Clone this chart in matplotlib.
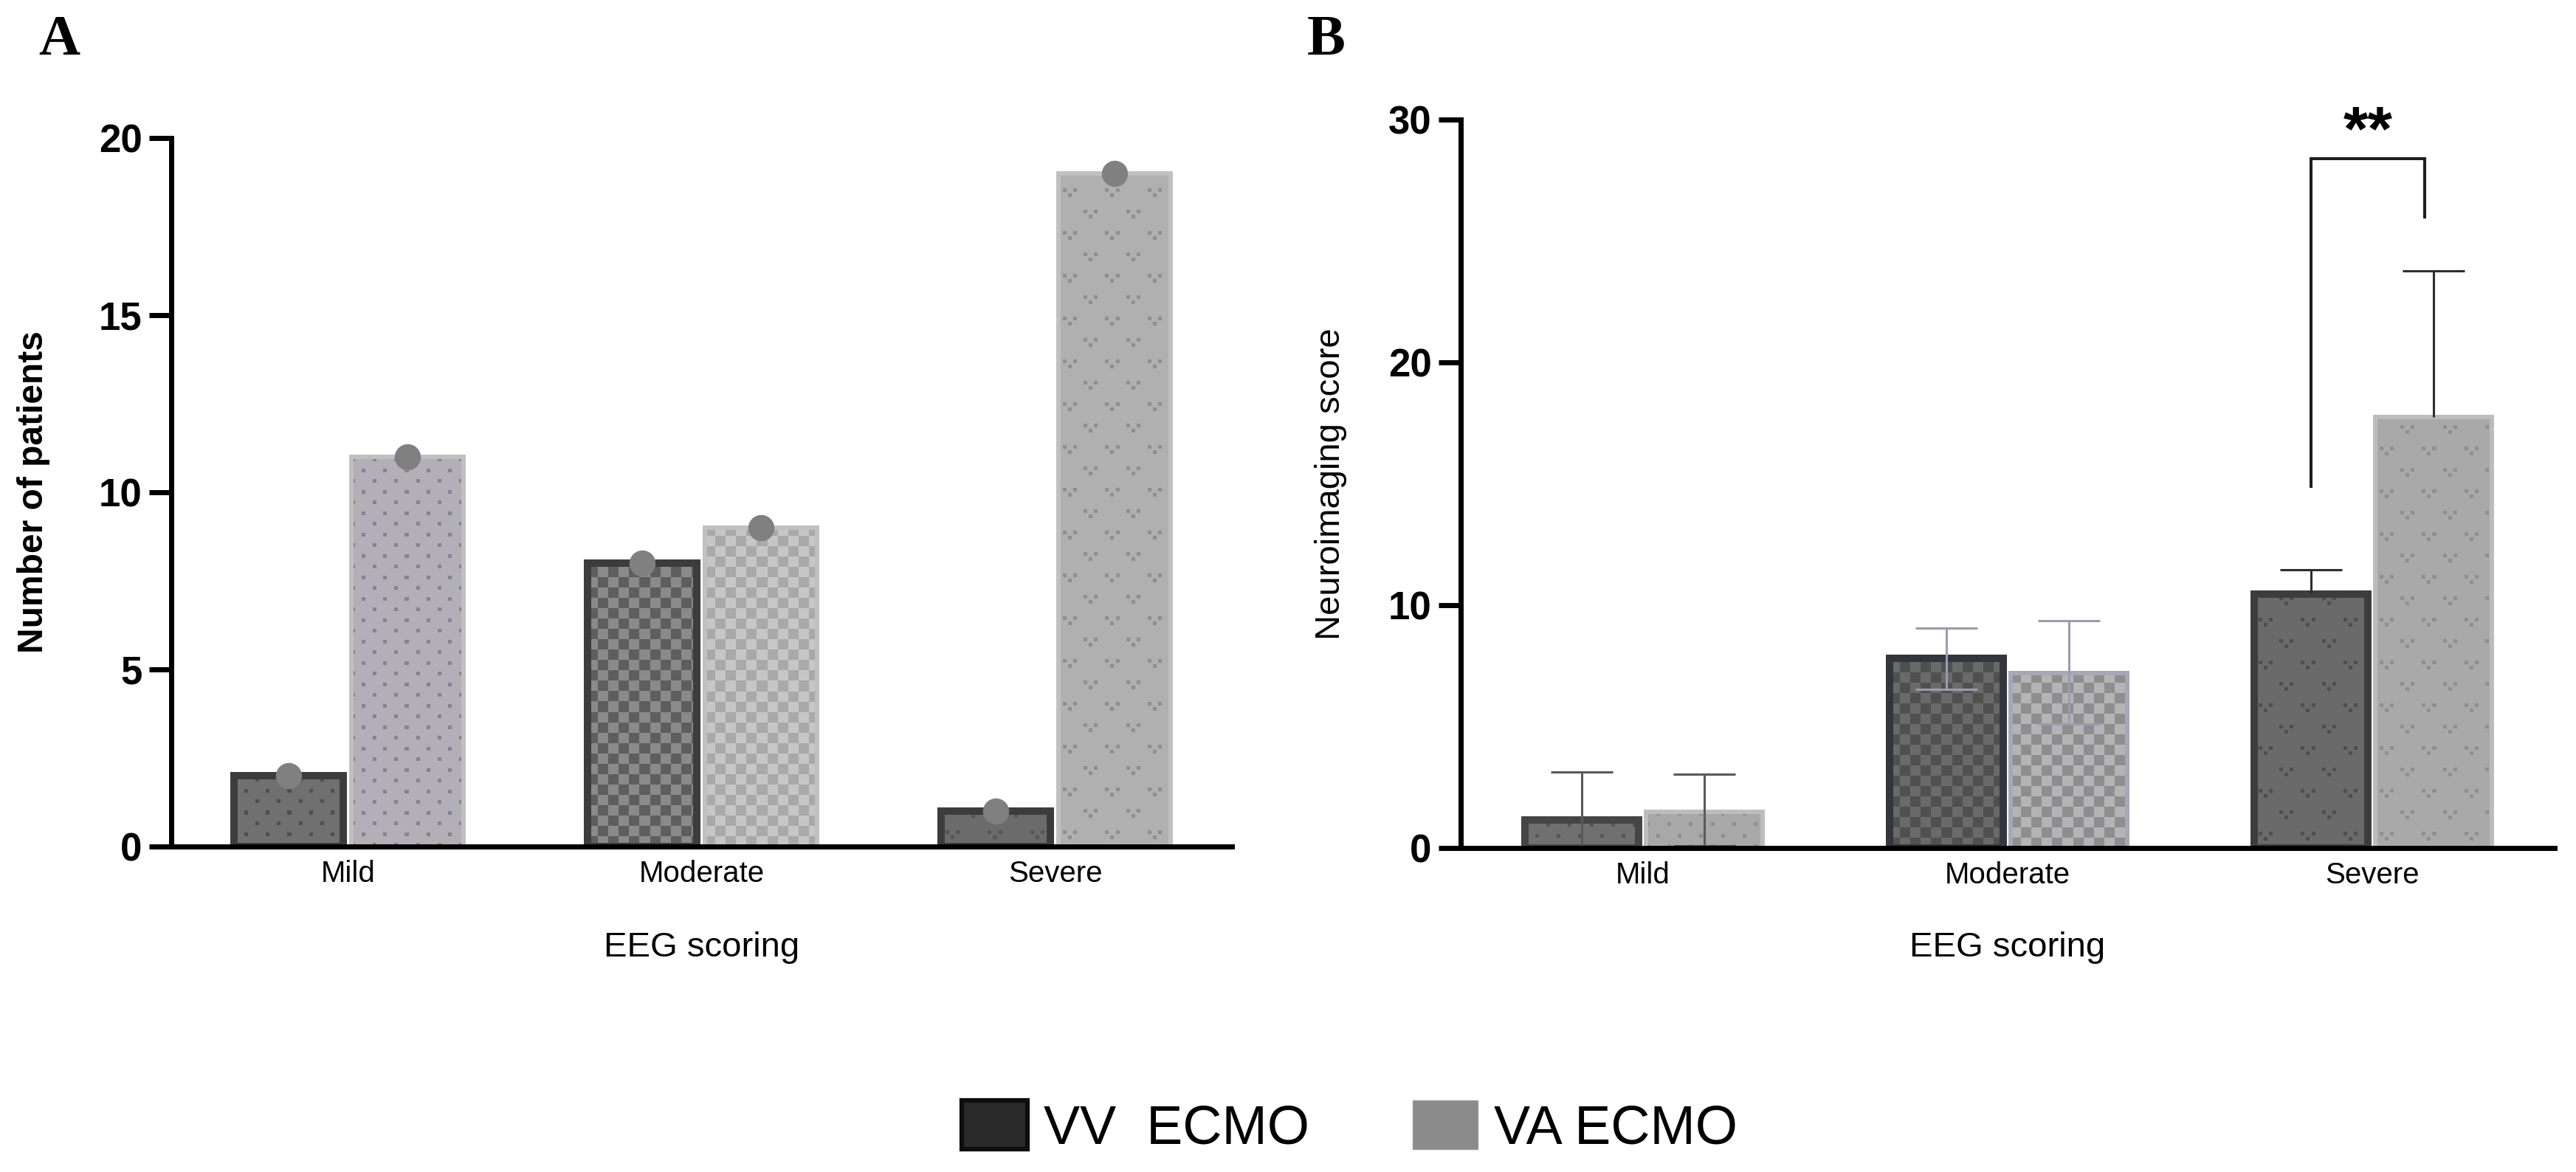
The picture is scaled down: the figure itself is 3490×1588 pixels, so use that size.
import numpy as np
import matplotlib
matplotlib.use('Agg')
import matplotlib.pyplot as plt
from matplotlib.colors import to_rgb
from matplotlib.patches import Patch

# data
categories = ['Mild', 'Moderate', 'Severe']

# panel A: number of patients per EEG grade
vv_patients = [2, 8, 1]
va_patients = [11, 9, 19]

# panel B: neuroimaging score (mean, lower / upper error)
vv_score = [1.15, 7.8, 10.45]
va_score = [1.5, 7.2, 17.75]
vv_err_lo = [1.15, 1.25, 0]
vv_err_hi = [1.98, 1.27, 1.0]
va_err_lo = [1.4, 2.1, 0]
va_err_hi = [1.54, 2.17, 6.03]

# significance bracket on Severe (panel B)
sig_label = '**'
sig_left_bottom = 14.9
sig_top = 28.4
sig_right_bottom = 26.0

W, H, DPI = 3490, 1588, 100
plt.rcParams['font.family'] = ['Liberation Sans', 'DejaVu Sans']

fig = plt.figure(figsize=(W / DPI, H / DPI), dpi=DPI)


def px_axes(left, right, bottom, top):
    # pixel box -> figure fraction
    return fig.add_axes([left / W, 1 - bottom / H, (right - left) / W, (bottom - top) / H])


axA = px_axes(232, 1669, 1147, 187)
axB = px_axes(1979, 3461, 1149, 162)

kinds = ['dots', 'checker', 'v']
off = 0.168
x = np.arange(len(categories))


def pattern(kind, xx, yy):
    if kind == 'dots':
        m = ((yy % 29) < 5) & ((xx % 29) < 5)
        m |= (((yy - 14) % 29) < 5) & (((xx - 14) % 29) < 5)
        return m
    if kind == 'checker':
        return ((xx // 14) + (yy // 14)) % 2 == 0

    def vee(lx, ly):
        top = (ly >= 7) & (ly < 12) & (((lx >= 0) & (lx < 5)) | ((lx >= 14) & (lx < 19)))
        bot = (ly >= 0) & (ly < 5) & (lx >= 7) & (lx < 12)
        return top | bot
    m = vee((xx - 6) % 57, (yy - 10) % 58)
    m |= vee((xx - 34) % 57, (yy - 39) % 58)
    return m


def add_texture(ax, bars, kind_list, fgs):
    for b, kind, fg in zip(bars, kind_list, fgs):
        x0, y0 = b.get_x(), b.get_y()
        w, h = b.get_width(), b.get_height()
        (p0x, p0y), (p1x, p1y) = ax.transData.transform([(x0, y0), (x0 + w, y0 + h)])
        nx, ny = max(int(round(p1x - p0x)), 1), max(int(round(p1y - p0y)), 1)
        yy, xx = np.mgrid[0:ny, 0:nx]
        yy = yy[::-1]
        img = np.zeros((ny, nx, 4))
        img[..., :3] = to_rgb(fg)
        img[..., 3] = pattern(kind, xx, yy)
        im = ax.imshow(img, extent=(x0, x0 + w, y0, y0 + h), origin='upper',
                       interpolation='nearest', aspect='auto', zorder=1.5)
        im.set_clip_path(b)


def draw_series(ax, xs, vals, width, faces, fgs, edges, lw):
    bars = ax.bar(xs, vals, width, color=faces, linewidth=0, zorder=1)
    add_texture(ax, bars, kinds, fgs)
    ax.bar(xs, vals, width, facecolor='none', edgecolor=edges, linewidth=lw, zorder=1.8)


def style_axes(ax, ylim, yticks):
    ax.set_xlim(-0.5, 2.5)
    ax.set_ylim(*ylim)
    ax.set_autoscale_on(False)
    for s in ['top', 'right']:
        ax.spines[s].set_visible(False)
    for s in ['left', 'bottom']:
        ax.spines[s].set_linewidth(5)
        ax.spines[s].set_zorder(5)
    ax.set_yticks(yticks)
    ax.set_xticks(x)
    ax.set_xticklabels(categories, fontsize=29)
    ax.tick_params(axis='x', length=0, pad=13)
    ax.tick_params(axis='y', length=21.5, width=5, pad=7, labelsize=38)
    for t in ax.get_yticklabels():
        t.set_fontweight('bold')
    ax.set_xlabel('EEG scoring', fontsize=34, va='center')


# ---- panel A
style_axes(axA, (0, 20), [0, 5, 10, 15, 20])
draw_series(axA, x - off, vv_patients, 0.31,
            ['#707070', '#8a8a8a', '#6b6b6b'], ['#4f4f4f', '#5e5e5e', '#555555'],
            '#3c3c3c', 7.2)
draw_series(axA, x + off, va_patients, 0.318,
            ['#b2b0b6', '#c6c6c6', '#b0b0b0'], ['#8c8094', '#a9a9a9', '#8f8f8f'],
            '#c0c0c0', 4.3)
axA.scatter(x - off, vv_patients, s=600, color='#808080', zorder=4, clip_on=False)
axA.scatter(x + off, va_patients, s=600, color='#808080', zorder=4, clip_on=False)
axA.set_ylabel('Number of patients', fontsize=34.5, fontweight='bold', va='center')
axA.yaxis.set_label_coords(-0.130, 0.5)
axA.xaxis.set_label_coords(0.5, -0.1427)

# ---- panel B
style_axes(axB, (0, 30), [0, 10, 20, 30])
draw_series(axB, x - off, vv_score, 0.31,
            ['#707070', '#6a6a6a', '#6a6a6a'], ['#555555', '#505050', '#4f4f4f'],
            ['#454545', '#35353d', '#3d3d3d'], 7.2)
draw_series(axB, x + off, va_score, 0.318,
            ['#a8a8a8', '#b4b4b8', '#a9a9a9'], ['#8e8e8e', '#8e8e8e', '#8f8f8f'],
            ['#bdbdbd', '#a7a7b7', '#bcbcbc'], 4.3)

err_colors = ['#5a5a5a', '#9b9bb1', '#2e2e2e']
for i in range(len(categories)):
    for xs, vals, lo, hi in [(x - off, vv_score, vv_err_lo, vv_err_hi),
                             (x + off, va_score, va_err_lo, va_err_hi)]:
        _, caps, _ = axB.errorbar(xs[i], vals[i], yerr=[[lo[i]], [hi[i]]], fmt='none',
                                  ecolor=err_colors[i], elinewidth=2.2, capsize=30,
                                  capthick=2.2, zorder=3)
        if lo[i] == 0:
            caps[0].set_visible(False)

xl = x[2] - off
xr = x[2] + off - 0.025
axB.plot([xl, xl, xr, xr], [sig_left_bottom, sig_top, sig_top, sig_right_bottom],
         color='#1e1e1e', lw=2.9, zorder=3, clip_on=False, solid_joinstyle='miter')
axB.text((xl + xr) / 2, sig_top + 0.35, sig_label, ha='center', va='baseline',
         fontsize=62, fontweight='bold', clip_on=False)

axB.set_ylabel('Neuroimaging score', fontsize=34, va='center')
axB.yaxis.set_label_coords(-0.1188, 0.5)
axB.xaxis.set_label_coords(0.5, -0.1368)

# panel letters
fig.text(80 / W, 1 - 56 / H, 'A', ha='center', va='center', fontsize=56,
         fontweight='bold', family=['Liberation Serif', 'DejaVu Serif'])
fig.text(1797 / W, 1 - 56 / H, 'B', ha='center', va='center', fontsize=56,
         fontweight='bold', family=['Liberation Serif', 'DejaVu Serif'])

# legend
handles = [Patch(facecolor='#2a2a2a', edgecolor='#0d0d0d', linewidth=4.5, label='VV  ECMO'),
           Patch(facecolor='#8b8b8b', edgecolor='#9a9a9a', linewidth=1, label='VA ECMO')]
fig.legend(handles=handles, loc='center', bbox_to_anchor=(0.524, 0.038), ncol=2,
           frameon=False, fontsize=53, handlelength=1.2, handleheight=1.0,
           handletextpad=0.3, columnspacing=1.9)

fig.savefig('out.png', dpi=DPI)
